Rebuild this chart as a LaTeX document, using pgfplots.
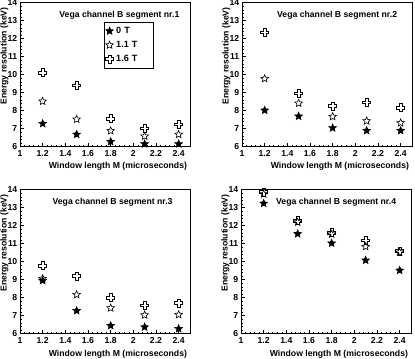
\documentclass[border=0pt]{standalone}
\usepackage{fontspec}
\setmainfont{Liberation Sans}
\usepackage{pgfplots}
\pgfplotsset{compat=1.18}

% ROOT-like markers: filled star, open star, open cross
\pgfdeclareplotmark{fstar}{%
  \pgfpathmoveto{\pgfpointpolar{90}{\pgfplotmarksize}}%
  \pgfpathlineto{\pgfpointpolar{126}{0.45\pgfplotmarksize}}%
  \pgfpathlineto{\pgfpointpolar{162}{\pgfplotmarksize}}%
  \pgfpathlineto{\pgfpointpolar{198}{0.45\pgfplotmarksize}}%
  \pgfpathlineto{\pgfpointpolar{234}{\pgfplotmarksize}}%
  \pgfpathlineto{\pgfpointpolar{270}{0.45\pgfplotmarksize}}%
  \pgfpathlineto{\pgfpointpolar{306}{\pgfplotmarksize}}%
  \pgfpathlineto{\pgfpointpolar{342}{0.45\pgfplotmarksize}}%
  \pgfpathlineto{\pgfpointpolar{18}{\pgfplotmarksize}}%
  \pgfpathlineto{\pgfpointpolar{54}{0.45\pgfplotmarksize}}%
  \pgfpathclose
  \pgfusepathqfillstroke}
\pgfdeclareplotmark{ostar}{%
  \pgfpathmoveto{\pgfpointpolar{90}{\pgfplotmarksize}}%
  \pgfpathlineto{\pgfpointpolar{126}{0.45\pgfplotmarksize}}%
  \pgfpathlineto{\pgfpointpolar{162}{\pgfplotmarksize}}%
  \pgfpathlineto{\pgfpointpolar{198}{0.45\pgfplotmarksize}}%
  \pgfpathlineto{\pgfpointpolar{234}{\pgfplotmarksize}}%
  \pgfpathlineto{\pgfpointpolar{270}{0.45\pgfplotmarksize}}%
  \pgfpathlineto{\pgfpointpolar{306}{\pgfplotmarksize}}%
  \pgfpathlineto{\pgfpointpolar{342}{0.45\pgfplotmarksize}}%
  \pgfpathlineto{\pgfpointpolar{18}{\pgfplotmarksize}}%
  \pgfpathlineto{\pgfpointpolar{54}{0.45\pgfplotmarksize}}%
  \pgfpathclose
  \pgfusepathqstroke}
\pgfdeclareplotmark{ocross}{%
  \pgfpathmoveto{\pgfpoint{-0.33\pgfplotmarksize}{\pgfplotmarksize}}%
  \pgfpathlineto{\pgfpoint{0.33\pgfplotmarksize}{\pgfplotmarksize}}%
  \pgfpathlineto{\pgfpoint{0.33\pgfplotmarksize}{0.33\pgfplotmarksize}}%
  \pgfpathlineto{\pgfpoint{\pgfplotmarksize}{0.33\pgfplotmarksize}}%
  \pgfpathlineto{\pgfpoint{\pgfplotmarksize}{-0.33\pgfplotmarksize}}%
  \pgfpathlineto{\pgfpoint{0.33\pgfplotmarksize}{-0.33\pgfplotmarksize}}%
  \pgfpathlineto{\pgfpoint{0.33\pgfplotmarksize}{-\pgfplotmarksize}}%
  \pgfpathlineto{\pgfpoint{-0.33\pgfplotmarksize}{-\pgfplotmarksize}}%
  \pgfpathlineto{\pgfpoint{-0.33\pgfplotmarksize}{-0.33\pgfplotmarksize}}%
  \pgfpathlineto{\pgfpoint{-\pgfplotmarksize}{-0.33\pgfplotmarksize}}%
  \pgfpathlineto{\pgfpoint{-\pgfplotmarksize}{0.33\pgfplotmarksize}}%
  \pgfpathlineto{\pgfpoint{-0.33\pgfplotmarksize}{0.33\pgfplotmarksize}}%
  \pgfpathclose
  \pgfusepathqstroke}

\pgfplotsset{
  vega/.style={
    scale only axis, width=127.5pt, height=108pt, anchor=south west,
    xmin=1, xmax=2.5, ymin=6, ymax=14,
    xtick={1,1.2,1.4,1.6,1.8,2,2.2,2.4}, ytick={6,7,...,14},
    minor tick num=4, tick align=inside, xtick pos=bottom, ytick pos=left,
    major tick length=3pt, minor tick length=1.6pt,
    axis line style={line width=0.5pt}, every tick/.style={black, line width=0.4pt},
    /pgf/number format/assume math mode=true,
    tick label style={font=\bfseries\fontsize{6.5}{7.5}\selectfont},
    yticklabel style={xshift=1.5pt}, xticklabel style={yshift=0.5pt},
    label style={font=\bfseries\fontsize{6.5}{7.5}\selectfont},
    xlabel={Window length M (microseconds)},
    ylabel={Energy resolution (keV)},
    xlabel style={at={(rel axis cs:1.01,0)}, anchor=north east, yshift=-8.5pt},
    ylabel style={at={(rel axis cs:0,1)}, anchor=south east, yshift=5.2pt},
    every axis plot/.append style={only marks, black, line width=0.45pt, mark size=3pt},
  },
  m0/.style={mark=fstar}, m1/.style={mark=ostar}, m2/.style={mark=ocross},
}

\newcommand{\vtitle}[3]{\node[anchor=east, font=\bfseries\fontsize{6.5}{7.5}\selectfont]
  at (rel axis cs:#1,#2) {#3};}

\begin{document}
\begin{tikzpicture}
  \useasboundingbox (0,0) rectangle (311.25pt,268.5pt);

  % segment 1
  \begin{axis}[vega, at={(15pt,158.5pt)},
      legend style={at={(rel axis cs:0.494,0.866)}, anchor=north west,
        font=\bfseries\fontsize{6.8}{8.8}\selectfont, draw=black, line width=0.4pt,
        inner xsep=1pt, inner ysep=1.5pt, row sep=0.3pt,
        nodes={text width=25pt, align=left}},
      legend image code/.code={\draw[mark repeat=2,mark phase=2,#1] plot coordinates {(0cm,0cm)(0.12cm,0cm)(0.24cm,0cm)};}]
    \addplot[m0] coordinates {(1.2,7.28)(1.5,6.68)(1.8,6.28)(2.1,6.15)(2.4,6.15)};
    \addplot[m1] coordinates {(1.2,8.52)(1.5,7.52)(1.8,6.88)(2.1,6.58)(2.4,6.68)};
    \addplot[m2] coordinates {(1.2,10.12)(1.5,9.4)(1.8,7.55)(2.1,7.03)(2.4,7.25)};
    \legend{0 T, 1.1 T, 1.6 T}
    \vtitle{0.965}{0.915}{Vega channel B segment nr.1}
  \end{axis}

  % segment 2
  \begin{axis}[vega, at={(181.5pt,158.5pt)}]
    \addplot[m0] coordinates {(1.2,8.02)(1.5,7.69)(1.8,7.04)(2.1,6.89)(2.4,6.89)};
    \addplot[m1] coordinates {(1.2,9.78)(1.5,8.41)(1.8,7.67)(2.1,7.43)(2.4,7.32)};
    \addplot[m2] coordinates {(1.2,12.36)(1.5,8.97)(1.8,8.26)(2.1,8.47)(2.4,8.17)};
    \vtitle{0.94}{0.915}{Vega channel B segment nr.2}
  \end{axis}

  % segment 3
  \begin{axis}[vega, at={(15pt,18.2pt)}]
    \addplot[m0] coordinates {(1.2,8.95)(1.5,7.28)(1.8,6.45)(2.1,6.37)(2.4,6.28)};
    \addplot[m1] coordinates {(1.2,9.06)(1.5,8.17)(1.8,7.43)(2.1,7.04)(2.4,7.06)};
    \addplot[m2] coordinates {(1.2,9.78)(1.5,9.21)(1.8,8.0)(2.1,7.58)(2.4,7.71)};
    \vtitle{0.925}{0.91}{Vega channel B segment nr.3}
  \end{axis}

  % segment 4
  \begin{axis}[vega, at={(180.75pt,18.2pt)}]
    \addplot[m0] coordinates {(1.2,13.24)(1.5,11.55)(1.8,11.03)(2.1,10.08)(2.4,9.52)};
    \addplot[m1] coordinates {(1.2,13.76)(1.5,12.2)(1.8,11.53)(2.1,10.84)(2.4,10.53)};
    \addplot[m2] coordinates {(1.2,13.87)(1.5,12.29)(1.8,11.62)(2.1,11.19)(2.4,10.6)};
    \vtitle{0.94}{0.91}{Vega channel B segment nr.4}
  \end{axis}
\end{tikzpicture}
\end{document}
